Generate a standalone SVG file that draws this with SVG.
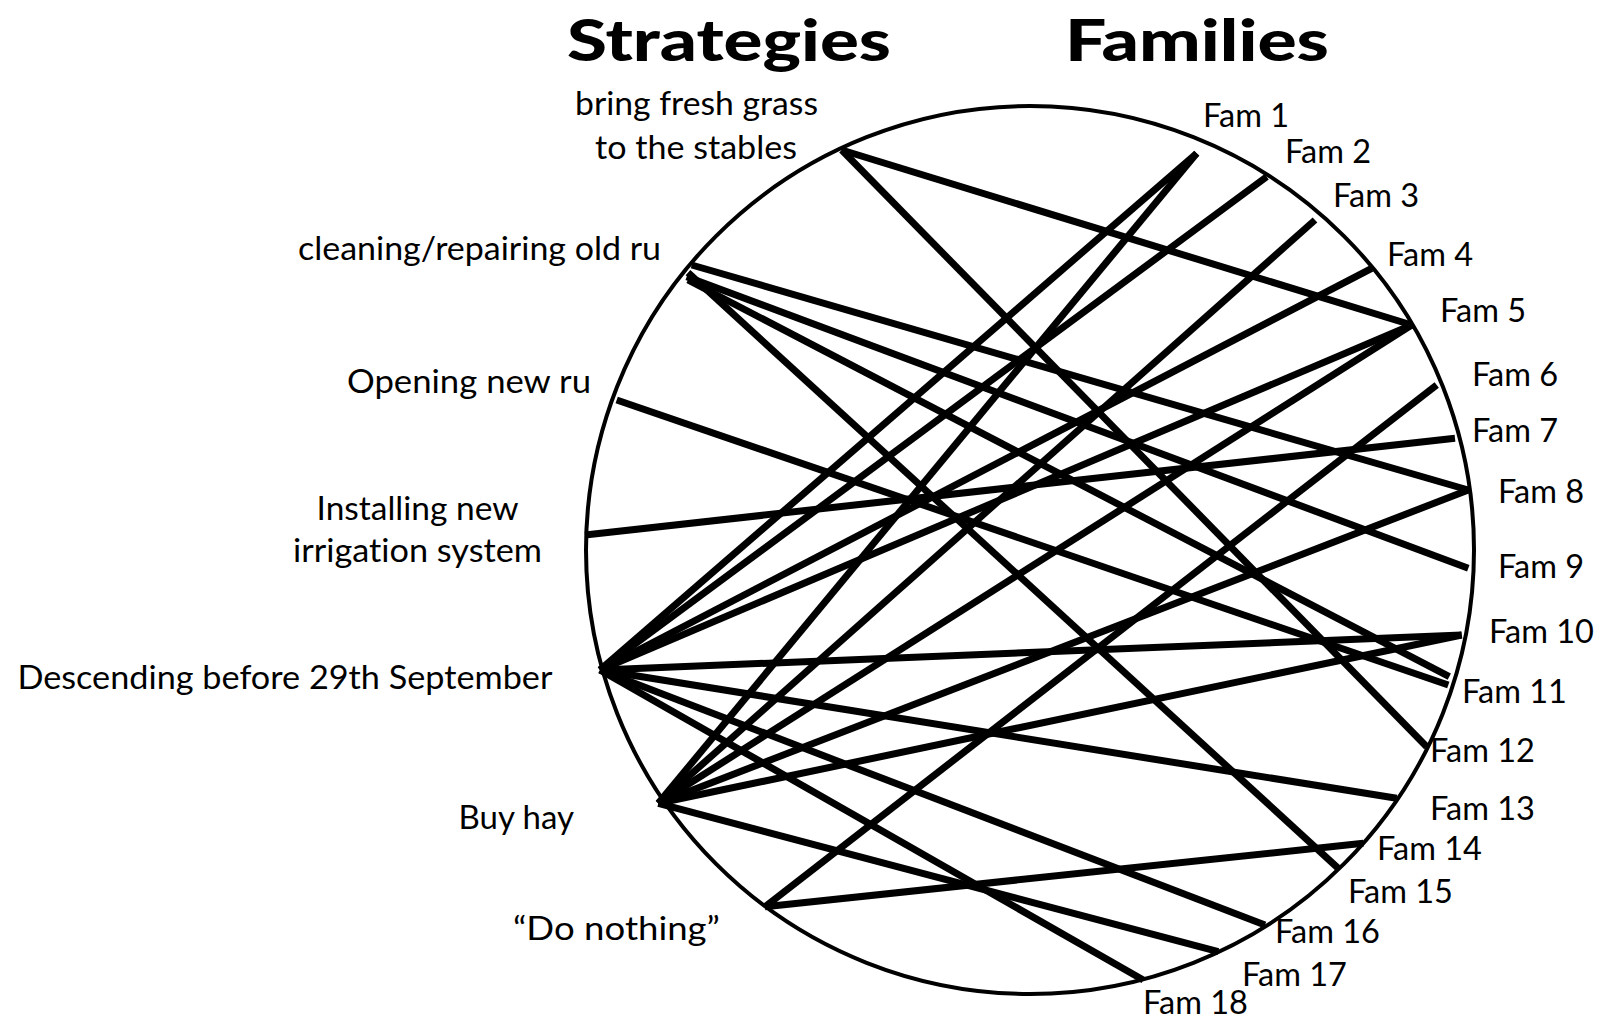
<svg xmlns="http://www.w3.org/2000/svg" width="1601" height="1020" viewBox="0 0 1601 1020">
  <style>
    text { font-variant-ligatures: none; }
    .title { font-family: Lato, "DejaVu Sans", sans-serif; font-weight: 900; font-size: 58px; fill: #000; }
    .lbl { font-family: Lato, "DejaVu Sans", sans-serif; font-size: 33px; fill: #000; }
    .fam { font-family: Lato, "DejaVu Sans", sans-serif; font-size: 32.5px; fill: #000; }
    .ring { fill: none; stroke: #000; stroke-width: 4; }
    .link { stroke: #000; stroke-width: 7; stroke-linecap: butt; fill: none; }
  </style>

  <rect width="1601" height="1020" fill="#fff"/>

  <!-- column headings -->
  <g id="headings">
    <text class="title" x="567" y="61" textLength="324" lengthAdjust="spacingAndGlyphs">Strategies</text>
    <text class="title" x="1065" y="61" textLength="264" lengthAdjust="spacingAndGlyphs">Families</text>
  </g>

  <!-- the ring that strategies and families sit on -->
  <circle class="ring" cx="1030" cy="550" r="444"/>

  <!-- links between strategies and families -->
  <g id="connectors">
    <!-- bring fresh grass -->
    <line class="link" x1="841.7" y1="150" x2="1411.7" y2="325"/>
    <line class="link" x1="841.7" y1="150" x2="1426.7" y2="746.7"/>
    <!-- cleaning/repairing old ru -->
    <line class="link" x1="691.7" y1="265" x2="1468.3" y2="490"/>
    <line class="link" x1="686.7" y1="276.7" x2="1468.3" y2="568.3"/>
    <line class="link" x1="688" y1="280" x2="1449.3" y2="676.7"/>
    <line class="link" x1="688" y1="272.6" x2="1338.3" y2="868.3"/>
    <!-- opening new ru -->
    <line class="link" x1="616.7" y1="400" x2="1448.3" y2="685"/>
    <!-- installing new irrigation system -->
    <line class="link" x1="585" y1="535" x2="1455" y2="438.3"/>
    <!-- descending before 29th September -->
    <line class="link" x1="600" y1="670" x2="1196.7" y2="153.3"/>
    <line class="link" x1="600" y1="670" x2="1266.7" y2="176.7"/>
    <line class="link" x1="600" y1="670" x2="1371.7" y2="268.3"/>
    <line class="link" x1="600" y1="670" x2="1411.7" y2="325"/>
    <line class="link" x1="600" y1="670" x2="1461.7" y2="635"/>
    <line class="link" x1="600" y1="670" x2="1396.7" y2="798.3"/>
    <line class="link" x1="600" y1="670" x2="1265" y2="925"/>
    <line class="link" x1="600" y1="670" x2="1143.3" y2="980"/>
    <!-- buy hay -->
    <line class="link" x1="658.3" y1="803.3" x2="1196.7" y2="153.3"/>
    <line class="link" x1="658.3" y1="803.3" x2="1315" y2="220"/>
    <line class="link" x1="658.3" y1="803.3" x2="1411.7" y2="325"/>
    <line class="link" x1="658.3" y1="803.3" x2="1468.3" y2="490"/>
    <line class="link" x1="658.3" y1="803.3" x2="1461.7" y2="635"/>
    <line class="link" x1="658.3" y1="803.3" x2="1218.3" y2="951.7"/>
    <!-- do nothing -->
    <line class="link" x1="765" y1="906.7" x2="1436.7" y2="385"/>
    <line class="link" x1="765" y1="906.7" x2="1363.3" y2="843.3"/>
  </g>

  <!-- strategies -->
  <g id="s-fresh-grass">
    <text class="lbl" x="575" y="115" textLength="243" lengthAdjust="spacingAndGlyphs">bring fresh grass</text>
    <text class="lbl" x="595" y="159" textLength="202" lengthAdjust="spacingAndGlyphs">to the stables</text>
  </g>
  <g id="s-old-ru"><text class="lbl" x="298" y="260" textLength="363" lengthAdjust="spacingAndGlyphs">cleaning/repairing old ru</text></g>
  <g id="s-new-ru"><text class="lbl" x="347" y="393" textLength="244" lengthAdjust="spacingAndGlyphs">Opening new ru</text></g>
  <g id="s-irrigation">
    <text class="lbl" x="316.5" y="520" textLength="202" lengthAdjust="spacingAndGlyphs">Installing new</text>
    <text class="lbl" x="293" y="562" textLength="249" lengthAdjust="spacingAndGlyphs">irrigation system</text>
  </g>
  <g id="s-descending"><text class="lbl" x="17.4" y="689" textLength="535" lengthAdjust="spacingAndGlyphs">Descending before 29th September</text></g>
  <g id="s-buy-hay"><text class="lbl" x="458.5" y="829" textLength="115.5" lengthAdjust="spacingAndGlyphs">Buy hay</text></g>
  <g id="s-do-nothing"><text class="lbl" x="513" y="940" textLength="207" lengthAdjust="spacingAndGlyphs">“Do nothing”</text></g>

  <!-- families -->
  <g id="fam-1"><text class="fam" x="1203" y="127">Fam 1</text></g>
  <g id="fam-2"><text class="fam" x="1285" y="163">Fam 2</text></g>
  <g id="fam-3"><text class="fam" x="1333" y="207">Fam 3</text></g>
  <g id="fam-4"><text class="fam" x="1387" y="266">Fam 4</text></g>
  <g id="fam-5"><text class="fam" x="1440" y="322">Fam 5</text></g>
  <g id="fam-6"><text class="fam" x="1472" y="386">Fam 6</text></g>
  <g id="fam-7"><text class="fam" x="1472" y="442">Fam 7</text></g>
  <g id="fam-8"><text class="fam" x="1498" y="503">Fam 8</text></g>
  <g id="fam-9"><text class="fam" x="1498" y="578">Fam 9</text></g>
  <g id="fam-10"><text class="fam" x="1489" y="643">Fam 10</text></g>
  <g id="fam-11"><text class="fam" x="1462" y="703">Fam 11</text></g>
  <g id="fam-12"><text class="fam" x="1430" y="762">Fam 12</text></g>
  <g id="fam-13"><text class="fam" x="1430" y="820">Fam 13</text></g>
  <g id="fam-14"><text class="fam" x="1377" y="860">Fam 14</text></g>
  <g id="fam-15"><text class="fam" x="1348" y="903">Fam 15</text></g>
  <g id="fam-16"><text class="fam" x="1275" y="943">Fam 16</text></g>
  <g id="fam-17"><text class="fam" x="1242" y="986">Fam 17</text></g>
  <g id="fam-18"><text class="fam" x="1143" y="1014">Fam 18</text></g>
</svg>
